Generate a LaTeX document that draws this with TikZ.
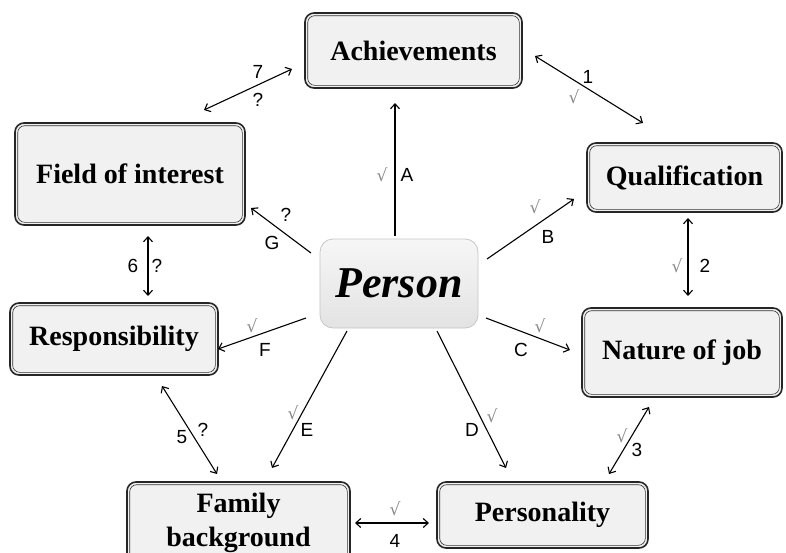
\documentclass[tikz,border=0pt]{standalone}
\usepackage{fontspec}
\setmainfont{Liberation Serif}
\newfontfamily\lblfont{Liberation Sans}
\newfontfamily\chkfont{DejaVu Sans}
\usetikzlibrary{arrows.meta}
\definecolor{boxfill}{HTML}{F1F1F1}
\definecolor{chk}{HTML}{8A8A8A}
\begin{document}
\begin{tikzpicture}[x=1pt,y=-1pt,
  box/.style={draw=black!85, line width=1.6pt, fill=boxfill, rounded corners=9pt,
    align=center, inner sep=2pt, font=\fontsize{28}{34}\selectfont\bfseries},
  personbox/.style={draw=gray!45, line width=0.8pt, rounded corners=13pt,
    top color=gray!7, bottom color=gray!22, align=center,
    font=\fontsize{44}{48}\selectfont\bfseries\itshape},
  arr/.style={line width=1.1pt, -{Straight Barb[length=5pt,width=9pt,line width=1.1pt]}},
  darr/.style={line width=1.1pt, {Straight Barb[length=5pt,width=9pt,line width=1.1pt]}-{Straight Barb[length=5pt,width=9pt,line width=1.1pt]}},
  lbl/.style={font=\lblfont\fontsize{19}{21}\selectfont, inner sep=0pt},
  ck/.style={font=\chkfont\fontsize{17}{19}\selectfont, text=chk, inner sep=0pt},
  qm/.style={font=\lblfont\fontsize{19}{21}\selectfont, inner sep=0pt}]
\useasboundingbox (0,0) rectangle (786,552);
\fill[white] (0,0) rectangle (786,552);

% boxes
\node[box, minimum width=217pt, minimum height=75pt] (ach) at (413.5,50.5) {Achievements};
\node[box, minimum width=230pt, minimum height=102pt] (foi) at (130,174) {Field of interest};
\node[box, minimum width=195pt, minimum height=69pt] (qual) at (684.5,177.5) {Qualification};
\node[box, minimum width=208pt, minimum height=72pt] (resp) at (114,339) {Responsibility};
\node[box, minimum width=200pt, minimum height=89pt] (noj) at (682,352.5) {Nature of job};
\node[box, minimum width=211pt, minimum height=66pt] (pers) at (542.5,515) {Personality};
\node[box, minimum width=223pt, minimum height=82pt] (fam) at (238.5,523) {Family\\background};
\foreach \n in {ach,foi,qual,resp,noj,pers,fam}{
  \draw[black!80, line width=0.6pt, rounded corners=7pt]
    ([shift={(3.5,3.5)}]\n.north west) rectangle ([shift={(-3.5,-3.5)}]\n.south east);
}
% person
\draw[white, line width=5pt, rounded corners=14pt] (318,237) rectangle (480,330);
\node[personbox, minimum width=158pt, minimum height=89pt] (p) at (399,283.5) {Person};

% coordinates
\coordinate (a1) at (395,236); \coordinate (a2) at (395,103);
\coordinate (b1) at (487,259); \coordinate (b2) at (574,199);
\coordinate (c1) at (486,318); \coordinate (c2) at (570,350);
\coordinate (d1) at (437,331); \coordinate (d2) at (506,468);
\coordinate (e1) at (347,331); \coordinate (e2) at (272,468);
\coordinate (f1) at (306,318); \coordinate (f2) at (218,349);
\coordinate (g1) at (311,253); \coordinate (g2) at (251,208);
\coordinate (r1a) at (535,56); \coordinate (r1b) at (643,123);
\coordinate (r2a) at (688,218); \coordinate (r2b) at (688,296);
\coordinate (r3a) at (649,407); \coordinate (r3b) at (609,474);
\coordinate (r4a) at (355,523); \coordinate (r4b) at (429,523);
\coordinate (r5a) at (162,386); \coordinate (r5b) at (217,474);
\coordinate (r6a) at (148,236); \coordinate (r6b) at (148,296);
\coordinate (r7a) at (204,110); \coordinate (r7b) at (292,69);

\draw[arr] (a1) -- (a2);
\draw[arr] (b1) -- (b2);
\draw[arr] (c1) -- (c2);
\draw[arr] (d1) -- (d2);
\draw[arr] (e1) -- (e2);
\draw[arr] (f1) -- (f2);
\draw[arr] (g1) -- (g2);
\draw[darr] (r1a) -- (r1b);
\draw[darr] (r2a) -- (r2b);
\draw[darr] (r3a) -- (r3b);
\draw[darr] (r4a) -- (r4b);
\draw[darr] (r5a) -- (r5b);
\draw[darr] (r6a) -- (r6b);
\draw[darr] (r7a) -- (r7b);

% labels
\node[ck] (ckA) at (382,175) {√};  \node[lbl] (lA) at (407,175) {A};
\node[ck] (ckB) at (535,207) {√};  \node[lbl] (lB) at (548,237) {B};
\node[ck] (ckC) at (540,326) {√};  \node[lbl] (lC) at (521,350) {C};
\node[ck] (ckD) at (492,416) {√};  \node[lbl] (lD) at (472,430) {D};
\node[ck] (ckE) at (293,413) {√};  \node[lbl] (lE) at (307,430) {E};
\node[ck] (ckF) at (252,326) {√};  \node[lbl] (lF) at (265,350) {F};
\node[qm] (qG) at (286,215) {?};  \node[lbl] (lG) at (272,243) {G};
\node[lbl] (l1) at (588,77) {1};  \node[ck] (ck1) at (574,97) {√};
\node[ck] (ck2) at (677,266) {√};  \node[lbl] (l2) at (705,266) {2};
\node[ck] (ck3) at (622,436) {√};  \node[lbl] (l3) at (637,450) {3};
\node[ck] (ck4) at (395,509) {√};  \node[lbl] (l4) at (395,541) {4};
\node[lbl] (l5) at (182,437) {5};  \node[qm] (q5) at (203,430) {?};
\node[lbl] (l6) at (133,266) {6};  \node[qm] (q6) at (157,266) {?};
\node[lbl] (l7) at (258,72) {7};  \node[qm] (q7) at (258,100) {?};
\end{tikzpicture}
\end{document}
